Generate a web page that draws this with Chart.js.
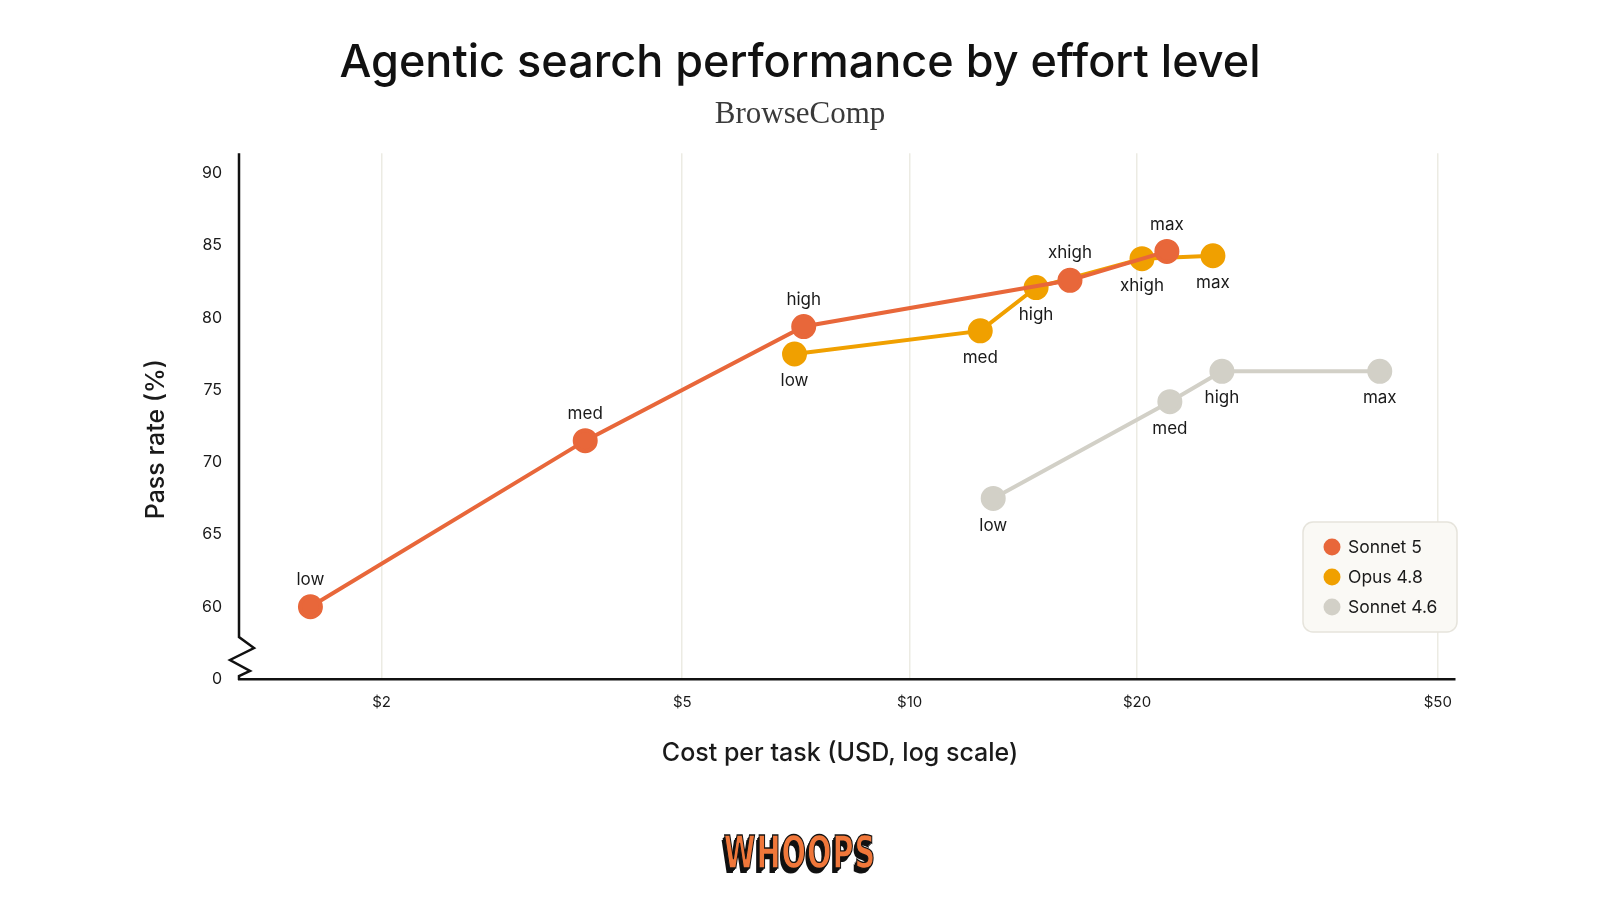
<!DOCTYPE html>
<html>
<head>
<meta charset="utf-8">
<title>Agentic search performance by effort level</title>
<script src="https://cdn.jsdelivr.net/npm/chart.js@4.4.1/dist/chart.umd.min.js"></script>
<style>
  html, body { margin: 0; padding: 0; background: #fff; }
  #wrap { position: relative; width: 1600px; height: 900px; overflow: hidden; }
  #chart { position: absolute; left: 0; top: 0; }
  #logo {
    position: absolute; left: 0; top: 834px; width: 1600px; text-align: center;
    font: bold 32px "DejaVu Sans Condensed", "DejaVu Sans", sans-serif;
    color: #f0773a; letter-spacing: 1px;
    -webkit-text-stroke: 1px #111;
    text-shadow: -1px 1px 0 #111, -2px 2px 0 #111, -3px 3px 0 #111;
    transform: scaleY(1.4);
  }
</style>
</head>
<body>
<div id="wrap">
  <canvas id="chart" width="1600" height="900"></canvas>
  <div id="logo">WHOOPS</div>
</div>
<script>
// effort levels (point labels)
var levels5 = ["low", "med", "high", "xhigh", "max"];
var levels46 = ["low", "med", "high", "max"];

// Sonnet 5
var sonnet5Cost = [1.61, 3.72, 7.24, 16.3, 21.9];
var sonnet5Pass = [60.0, 71.5, 79.4, 82.6, 84.6];

// Opus 4.8
var opusCost = [7.04, 12.4, 14.7, 20.3, 25.2];
var opusPass = [77.5, 79.1, 82.1, 84.1, 84.3];

// Sonnet 4.6
var sonnet46Cost = [12.9, 22.1, 25.9, 41.9];
var sonnet46Pass = [67.5, 74.2, 76.3, 76.3];

// axis ticks
var xTicks = [2, 5, 10, 20, 50];
var yTicks = [55, 60, 65, 70, 75, 80, 85, 90];
var yBreakValue = 55;   // drawn as "0" below the axis break

function pts(xs, ys) {
  return xs.map(function(x, i) { return { x: x, y: ys[i] }; });
}

var SANS = 'Inter, "Open Sans", sans-serif';
Chart.defaults.font.family = SANS;
Chart.defaults.color = "#1a1a1a";

function series(label, color, xs, ys, lv, side) {
  return {
    label: label,
    data: pts(xs, ys),
    levels: lv,
    labelSide: side,
    borderColor: color,
    backgroundColor: color,
    pointBackgroundColor: color,
    pointBorderColor: color,
    borderWidth: 4,
    pointRadius: 10.5,
    pointHoverRadius: 10.5,
    tension: 0
  };
}

// labels next to every point
var pointLabels = {
  id: "pointLabels",
  afterDatasetsDraw: function(chart) {
    var ctx = chart.ctx;
    ctx.save();
    ctx.font = "17px " + SANS;
    ctx.fillStyle = "#1a1a1a";
    ctx.textAlign = "center";
    ctx.textBaseline = "middle";
    chart.data.datasets.forEach(function(ds, i) {
      var meta = chart.getDatasetMeta(i);
      meta.data.forEach(function(p, j) {
        var dy = ds.labelSide === "above" ? -27 : 27;
        ctx.fillText(ds.levels[j], p.x, p.y + dy);
      });
    });
    ctx.restore();
  }
};

// y axis line with a zigzag break near the bottom, plus both axis titles
var axisBreak = {
  id: "axisBreak",
  afterDraw: function(chart) {
    var ctx = chart.ctx, a = chart.chartArea;
    var x0 = a.left, b = a.bottom;
    ctx.save();
    ctx.strokeStyle = "#111";
    ctx.lineWidth = 2.5;
    ctx.lineJoin = "miter";
    ctx.beginPath();
    ctx.moveTo(x0, a.top);
    ctx.lineTo(x0, b - 42);
    ctx.lineTo(x0 + 15, b - 31);
    ctx.lineTo(x0 - 9, b - 19);
    ctx.lineTo(x0 + 11, b - 8);
    ctx.lineTo(x0, b - 3);
    ctx.lineTo(x0, b + 1);
    ctx.stroke();

    ctx.font = "500 25px " + SANS;
    ctx.fillStyle = "#1a1a1a";
    ctx.textAlign = "center";
    ctx.textBaseline = "middle";
    // x title is centred on the page, not the plot
    ctx.fillText("Cost per task (USD, log scale)", chart.width / 2 + 40, b + 74);

    // y title sits a bit below the middle of the axis
    ctx.translate(156, (a.top + a.bottom) / 2 + 23);
    ctx.rotate(-Math.PI / 2);
    ctx.fillText("Pass rate (%)", 0, 0);
    ctx.restore();
  }
};

// legend box inside the plot, bottom right
var boxLegend = {
  id: "boxLegend",
  afterDraw: function(chart) {
    var ctx = chart.ctx, a = chart.chartArea;
    var w = 154, h = 110;
    var x = a.right + 2 - w, y = a.bottom - 47 - h;
    ctx.save();
    ctx.fillStyle = "#faf9f5";
    ctx.strokeStyle = "#e6e4dc";
    ctx.lineWidth = 1.5;
    ctx.beginPath();
    ctx.roundRect(x, y, w, h, 10);
    ctx.fill();
    ctx.stroke();
    ctx.font = "17.5px " + SANS;
    ctx.textBaseline = "middle";
    chart.data.datasets.forEach(function(ds, i) {
      var cy = y + 25 + i * 30;
      ctx.fillStyle = ds.borderColor;
      ctx.beginPath();
      ctx.arc(x + 29, cy, 8.5, 0, Math.PI * 2);
      ctx.fill();
      ctx.fillStyle = "#1a1a1a";
      ctx.fillText(ds.label, x + 45, cy + 1);
    });
    ctx.restore();
  }
};

var ctx = document.getElementById("chart").getContext("2d");
new Chart(ctx, {
  type: "line",
  data: {
    datasets: [
      series("Sonnet 5", "#e8673a", sonnet5Cost, sonnet5Pass, levels5, "above"),
      series("Opus 4.8", "#f0a000", opusCost, opusPass, levels5, "below"),
      series("Sonnet 4.6", "#d2d0c7", sonnet46Cost, sonnet46Pass, levels46, "below")
    ]
  },
  options: {
    responsive: false,
    animation: false,
    layout: { padding: { left: 145, right: 145, top: 0, bottom: 121 } },
    plugins: {
      legend: { display: false },
      tooltip: { enabled: false },
      title: {
        display: true,
        text: "Agentic search performance by effort level",
        color: "#111",
        font: { size: 45, weight: "500", lineHeight: 1.2 },
        padding: { top: 36, bottom: 3 }
      },
      subtitle: {
        display: true,
        text: "BrowseComp",
        color: "#3a3a3a",
        font: { family: '"Liberation Serif", "DejaVu Serif", serif', size: 31, weight: "normal", lineHeight: 1.2 },
        padding: { top: 3, bottom: 20 }
      }
    },
    scales: {
      x: {
        type: "logarithmic",
        min: 1.295,
        max: 52.7,
        afterBuildTicks: function(s) { s.ticks = xTicks.map(function(v) { return { value: v }; }); },
        afterFit: function(s) { s.height = 100; },
        ticks: {
          padding: 14,
          maxRotation: 0,
          font: { size: 15 },
          callback: function(v) { return "$" + v; }
        },
        grid: { color: "#ecebe3", lineWidth: 1.5, drawTicks: false },
        border: { display: true, color: "#111", width: 2.5 },
        title: { display: false }
      },
      y: {
        type: "linear",
        min: 55,
        max: 91.4,
        afterBuildTicks: function(s) { s.ticks = yTicks.map(function(v) { return { value: v }; }); },
        afterFit: function(s) { s.width = 94; },
        ticks: {
          padding: 17,
          font: { size: 16 },
          callback: function(v) { return v === yBreakValue ? "0" : v; }
        },
        grid: { display: false, drawTicks: false },
        border: { display: false },
        title: { display: false }
      }
    }
  },
  plugins: [pointLabels, axisBreak, boxLegend]
});
</script>
</body>
</html>
